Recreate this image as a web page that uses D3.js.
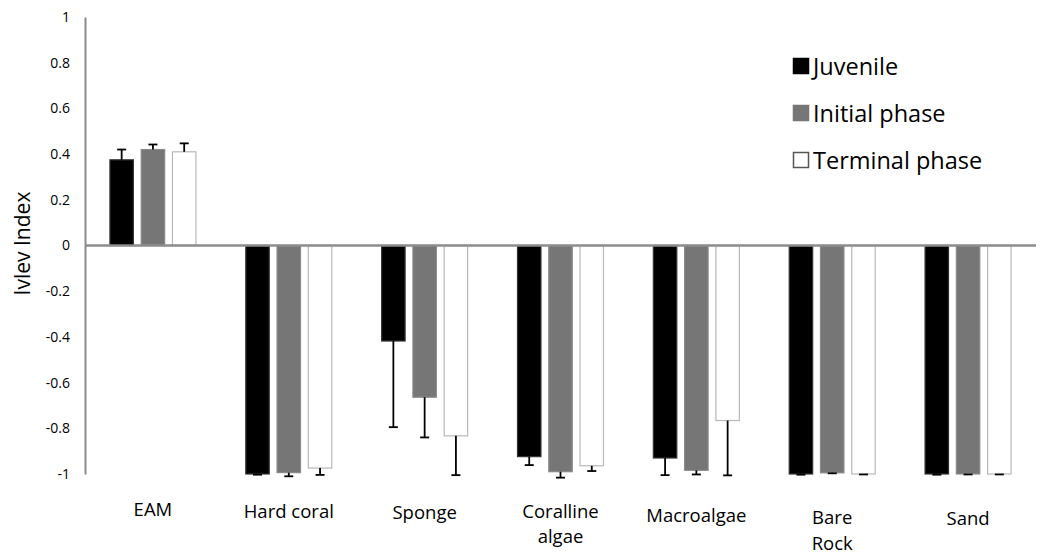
<!DOCTYPE html>
<html>
<head>
<meta charset="utf-8">
<script src="https://cdn.jsdelivr.net/npm/d3@7"></script>
<style>
  body { margin: 0; background: #fff; }
  text { font-family: "Open Sans", sans-serif; fill: #000; }
</style>
</head>
<body>
<div id="app"></div>
<script>
// Chart data
const categories = ["EAM", "Hard coral", "Sponge", "Coralline algae", "Macroalgae", "Bare Rock", "Sand"];
const seriesNames = ["Juvenile", "Initial phase", "Terminal phase"];
const juvenile = [0.375, -1.0, -0.418, -0.924, -0.93, -1.0, -1.0];
const juvenileErr = [0.045, 0.003, 0.377, 0.037, 0.075, 0.003, 0.003];
const initial = [0.42, -0.994, -0.664, -0.99, -0.984, -0.995, -1.0];
const initialErr = [0.022, 0.016, 0.176, 0.026, 0.018, 0.002, 0.002];
const terminal = [0.41, -0.974, -0.833, -0.964, -0.766, -1.0, -1.0];
const terminalErr = [0.037, 0.03, 0.172, 0.023, 0.24, 0.002, 0.002];
const yTicks = [1, 0.8, 0.6, 0.4, 0.2, 0, -0.2, -0.4, -0.6, -0.8, -1];

const width = 1042;
const height = 554;

const svg = d3.select("#app")
  .append("svg")
  .attr("width", width)
  .attr("height", height);

// Scales
const xScale = d3.scaleBand()
  .domain(categories)
  .range([85, 1036]);

const yScale = d3.scaleLinear()
  .domain([-1, 1])
  .range([474, 17]);

const inner = d3.scaleBand()
  .domain(seriesNames)
  .range([-43, 43])
  .paddingInner(0.25);

const colors = ["#000000", "#767676", "#ffffff"];
const strokes = ["#333333", "#8a8a8a", "#b8b8b8"];
const values = [juvenile, initial, terminal];
const errors = [juvenileErr, initialErr, terminalErr];

// Flatten into rows for drawing
const rows = [];
seriesNames.forEach((s, si) => {
  categories.forEach((c, ci) => {
    rows.push({ cat: c, series: s, si: si, v: values[si][ci], e: errors[si][ci] });
  });
});

const cx = (d) => xScale(d.cat) + xScale.bandwidth() / 2 + inner(d.series);

// Bars
svg.selectAll("rect.bar")
  .data(rows)
  .enter()
  .append("rect")
  .attr("class", "bar")
  .attr("x", cx)
  .attr("width", inner.bandwidth())
  .attr("y", (d) => Math.min(yScale(d.v), yScale(0)))
  .attr("height", (d) => Math.abs(yScale(d.v) - yScale(0)))
  .attr("fill", (d) => colors[d.si])
  .attr("stroke", (d) => strokes[d.si])
  .attr("stroke-width", 1.2);

// Error bars (drawn away from zero)
const errEnd = (d) => yScale(d.v >= 0 ? d.v + d.e : d.v - d.e);
const errG = svg.append("g").attr("stroke", "#000").attr("stroke-width", 1.8);
errG.selectAll("line.stem")
  .data(rows)
  .enter()
  .append("line")
  .attr("x1", (d) => cx(d) + inner.bandwidth() / 2)
  .attr("x2", (d) => cx(d) + inner.bandwidth() / 2)
  .attr("y1", (d) => yScale(d.v))
  .attr("y2", errEnd);
errG.selectAll("line.cap")
  .data(rows)
  .enter()
  .append("line")
  .attr("x1", (d) => cx(d) + inner.bandwidth() / 2 - 4.5)
  .attr("x2", (d) => cx(d) + inner.bandwidth() / 2 + 4.5)
  .attr("y1", errEnd)
  .attr("y2", errEnd);

// Y axis
const yAxis = d3.axisLeft(yScale)
  .tickValues(yTicks)
  .tickSize(0)
  .tickPadding(15)
  .tickFormat((d) => String(+d.toFixed(1)));

const yG = svg.append("g")
  .attr("transform", "translate(85, 0)")
  .call(yAxis);
yG.select(".domain").attr("stroke", "#8c8c8c").attr("stroke-width", 2);
yG.selectAll(".tick text")
  .style("font-family", "'Open Sans', sans-serif")
  .style("font-size", "14px")
  .attr("fill", "#000");

// Zero line
svg.append("line")
  .attr("x1", 85)
  .attr("x2", 1036)
  .attr("y1", yScale(0))
  .attr("y2", yScale(0))
  .attr("stroke", "#8c8c8c")
  .attr("stroke-width", 2.5);

// Y title
svg.append("text")
  .attr("transform", `translate(30, ${yScale(0) - 2}) rotate(-90)`)
  .attr("text-anchor", "middle")
  .style("font-size", "21px")
  .text("Ivlev Index");

// Category labels
const lineGap = { "Coralline algae": 25, "Bare Rock": 26 };
categories.forEach((c, i) => {
  const words = c.split(" ");
  const lines = lineGap[c] ? words : [c];
  const t = svg.append("text")
    .attr("text-anchor", "middle")
    .attr("x", xScale(c) + xScale.bandwidth() / 2)
    .attr("y", 516 + i * 1.5 - (c === "Coralline algae" ? 3 : 0))
    .style("font-size", "18.5px");
  lines.forEach((w, li) => {
    t.append("tspan")
      .attr("x", xScale(c) + xScale.bandwidth() / 2)
      .attr("dy", li === 0 ? 0 : lineGap[c])
      .text(w);
  });
});

// Legend
const legendBorder = ["#000000", "#767676", "#555555"];
const legend = svg.selectAll("g.legend")
  .data(seriesNames)
  .enter()
  .append("g")
  .attr("class", "legend")
  .attr("transform", (d, i) => `translate(793, ${58 + i * 47})`);
legend.append("rect")
  .attr("width", 15)
  .attr("height", 15)
  .attr("x", 0.5)
  .attr("y", 0.5)
  .attr("fill", (d, i) => colors[i])
  .attr("stroke", (d, i) => legendBorder[i])
  .attr("stroke-width", 1.5);
legend.append("text")
  .attr("x", 20)
  .attr("y", 17)
  .style("font-size", "23.5px")
  .text((d) => d);
</script>
</body>
</html>
